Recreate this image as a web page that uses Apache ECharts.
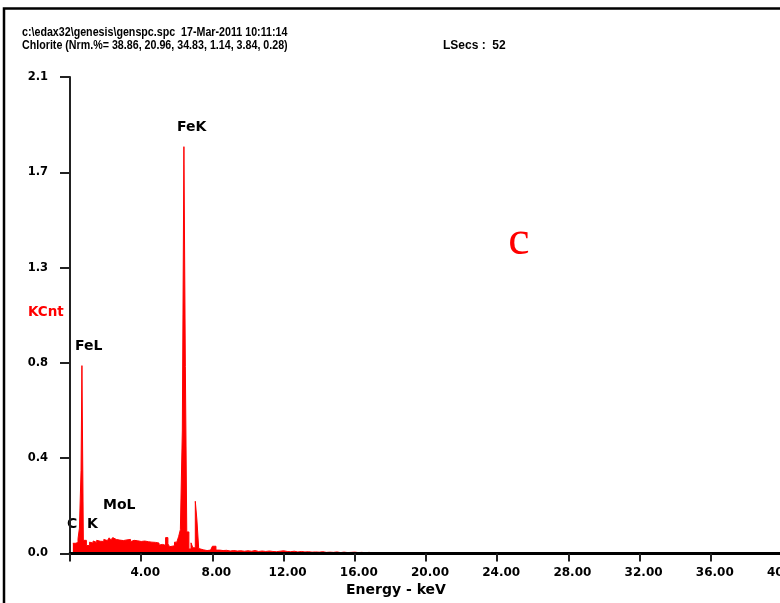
<!DOCTYPE html>
<html>
<head>
<meta charset="utf-8">
<title>Chlorite EDS spectrum</title>
<script src="https://cdn.jsdelivr.net/npm/echarts@6/dist/echarts.min.js"></script>
<style>
  html, body { margin: 0; padding: 0; background: #fff; }
  #chart { width: 780px; height: 603px; }
</style>
</head>
<body>
<div id="chart"></div>
<script>
// left edge of each channel group (keV)
const energyKeV = [
  0.16, 0.30, 0.45, 0.53, 0.62, 0.67, 0.75, 0.92,
  1.10, 1.20, 1.30, 1.40, 1.50, 1.60, 1.70, 1.80, 1.90,
  2.00, 2.10, 2.20, 2.30, 2.40, 2.50, 2.60, 2.70, 2.80, 2.90,
  3.00, 3.10, 3.20, 3.30, 3.40, 3.50, 3.60, 3.70, 3.80, 3.90,
  4.00, 4.10, 4.20, 4.30, 4.40, 4.50, 4.60, 4.70, 4.80, 4.90,
  5.00, 5.10, 5.20, 5.37, 5.50, 5.60, 5.70, 5.87, 6.00, 6.10,
  6.20, 6.31, 6.40, 6.48, 6.56, 6.68, 6.80, 6.90, 7.04, 7.13, 7.23,
  7.30, 7.50, 7.70, 7.90, 8.00, 8.20, 8.40, 8.60, 8.80,
  9.00, 9.20, 9.40, 9.60, 9.80, 10.0, 10.2, 10.4, 10.6, 10.8,
  11.0, 11.2, 11.4, 11.6, 11.8, 12.0, 12.2, 12.4, 12.6, 12.8,
  13.0, 13.2, 13.4, 13.6, 13.8, 14.0, 14.2, 14.4, 14.6, 14.8,
  15.0, 15.2, 15.4, 15.6, 15.8, 16.0, 16.2, 16.4, 16.6, 16.8,
  17.0, 17.2, 17.4
]
// counts in KCnt
const kcnt = [
  0.045, 0.048, 0.065, 0.112, 0.365, 0.828, 0.058, 0.035,
  0.050, 0.046, 0.055, 0.049, 0.058, 0.054, 0.060, 0.053, 0.062,
  0.057, 0.065, 0.069, 0.060, 0.070, 0.062, 0.067, 0.059, 0.066, 0.057,
  0.064, 0.060, 0.054, 0.062, 0.052, 0.058, 0.050, 0.056, 0.048, 0.053,
  0.050, 0.055, 0.047, 0.052, 0.045, 0.050, 0.043, 0.049, 0.041, 0.046,
  0.037, 0.040, 0.036, 0.070, 0.042, 0.030, 0.034, 0.050, 0.055, 0.074,
  0.105, 0.540, 1.793, 0.825, 0.095, 0.020, 0.047, 0.025, 0.230, 0.148, 0.022,
  0.016, 0.013, 0.015, 0.012, 0.032, 0.015, 0.013, 0.014, 0.011,
  0.013, 0.011, 0.012, 0.010, 0.012, 0.010, 0.013, 0.009, 0.011, 0.009,
  0.011, 0.009, 0.008, 0.010, 0.012, 0.009, 0.008, 0.010, 0.007, 0.009,
  0.007, 0.008, 0.006, 0.007, 0.006, 0.008, 0.005, 0.006, 0.005, 0.007,
  0.004, 0.006, 0.004, 0.005, 0.006, 0.004, 0.005, 0.003, 0.005, 0.003,
  0.004, 0.003, 0
]
const headerLines = [
  'c:\\edax32\\genesis\\genspc.spc  17-Mar-2011 10:11:14',
  'Chlorite (Nrm.%= 38.86, 20.96, 34.83, 1.14, 3.84, 0.28)'
]
const liveSecs = 'LSecs :  52'
const peakNames = ['FeK', 'FeL', 'MoL', 'C  K']

const red = '#ff0000'
const labelFont = 'DejaVu Sans'
const headFont = 'bold 12px "Liberation Sans Narrow", "Liberation Sans", sans-serif'

const chart = echarts.init(document.getElementById('chart'), null, { renderer: 'canvas' })

const spectrum = energyKeV.map((e, i) => [e, kcnt[i]])

// text helper for the graphic layer (x/y on the element so scaleX squeezes from the left edge)
function txt(text, x, y, opt, scaleX) {
  return {
    type: 'text',
    silent: true,
    x: x,
    y: y,
    scaleX: scaleX || 1,
    style: Object.assign({
      text: text,
      x: 0,
      y: 0,
      fill: '#000',
      font: 'bold 14px ' + labelFont,
      textVerticalAlign: 'middle'
    }, opt || {})
  }
}

const option = {
  animation: false,
  backgroundColor: '#fff',
  grid: {
    left: 70,
    right: -2,
    top: 77,
    bottom: 49.5,
    containLabel: false,
    outerBoundsMode: 'none'
  },
  xAxis: {
    type: 'value',
    min: 0,
    max: 40,
    interval: 4,
    z: 3,
    axisLine: { lineStyle: { color: '#000', width: 3 } },
    axisTick: { length: 8, lineStyle: { color: '#222', width: 2 } },
    axisLabel: {
      margin: 13,
      padding: [0, 0, 0, 8], // labels sit a little right of their ticks
      color: '#000',
      fontFamily: labelFont,
      fontWeight: 'bold',
      fontSize: 12,
      formatter: v => (v === 0 ? '' : v.toFixed(2))
    },
    splitLine: { show: false }
  },
  yAxis: {
    type: 'value',
    min: 0,
    max: 2.1,
    interval: 0.42,
    z: 3,
    axisLine: { show: true, lineStyle: { color: '#222', width: 2 } },
    axisTick: { show: true, length: 10, lineStyle: { color: '#222', width: 2 } },
    axisLabel: {
      margin: 22,
      color: '#000',
      fontFamily: labelFont,
      fontWeight: 'bold',
      fontSize: 11.5,
      formatter: v => v.toFixed(1)
    },
    splitLine: { show: false }
  },
  series: [{
    type: 'line',
    data: spectrum,
    step: 'end',
    symbol: 'none',
    z: 1,
    lineStyle: { color: red, width: 1 },
    areaStyle: { color: red, opacity: 1 }
  }],
  graphic: [
    // outer frame, runs off the right and bottom edges
    {
      type: 'rect',
      silent: true,
      shape: { x: 4, y: 8.5, width: 820, height: 700 },
      style: { fill: 'none', stroke: '#000', lineWidth: 2.5 }
    },
    txt(headerLines[0], 22, 33, { font: headFont }, 0.89),
    txt(headerLines[1], 22, 45.5, { font: headFont }, 0.89),
    txt(liveSecs, 443, 45.5, { font: headFont }),
    txt('KCnt', 28, 312, { fill: red, font: 'bold 13.5px ' + labelFont }),
    txt(peakNames[0], 177, 127),
    txt(peakNames[1], 75, 346),
    txt(peakNames[2], 103, 505),
    txt(peakNames[3], 67, 524),
    txt('Energy - keV', 396, 590.5, { textAlign: 'center' }),
    txt('c', 519, 241.5, { fill: red, textAlign: 'center', font: '48px "Liberation Serif", serif' })
  ]
}

chart.setOption(option)
</script>
</body>
</html>
